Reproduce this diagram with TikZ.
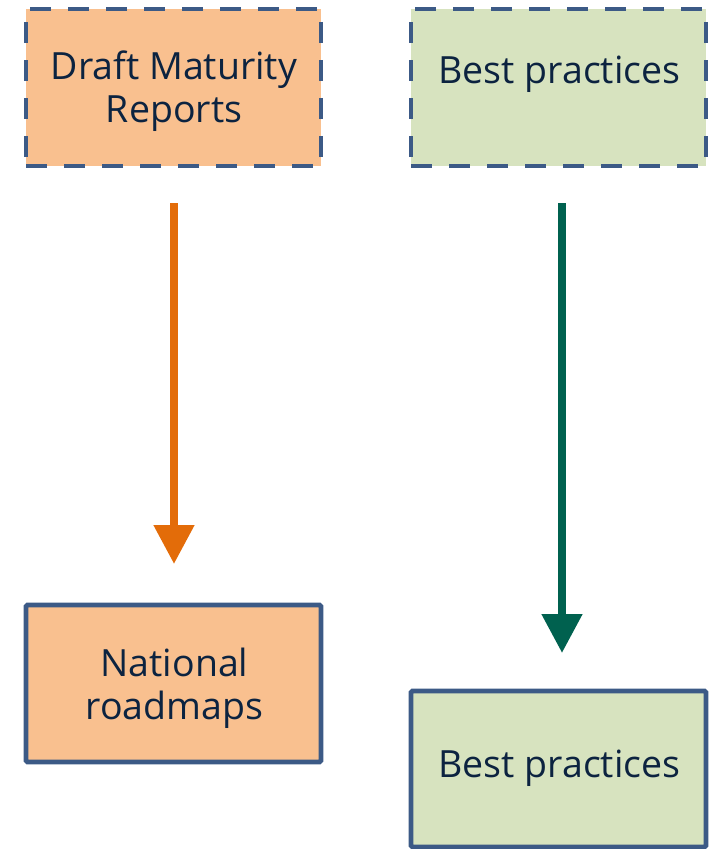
\documentclass[tikz,border=0pt]{standalone}
\usepackage{fontspec}
\setmainfont{Open Sans}
\usetikzlibrary{arrows.meta}
\definecolor{bordc}{HTML}{3C5A86}
\definecolor{txtc}{HTML}{0C2340}
\definecolor{orfill}{HTML}{F9C08F}
\definecolor{grfill}{HTML}{D7E3BF}
\definecolor{orarrow}{HTML}{E36C09}
\definecolor{grarrow}{HTML}{00614F}
\begin{document}
\begin{tikzpicture}[x=1pt,y=-1pt,
  box/.style={draw=bordc, inner sep=0pt, outer sep=0pt},
  dbox/.style={box, line width=4.8pt, dash pattern=on 21pt off 17pt},
  sbox/.style={box, line width=4.8pt, rounded corners=1.5pt},
  lbl/.style={text=txtc, font=\fontsize{37.5}{43}\selectfont, align=center, anchor=base, inner sep=0pt},
  conn/.style={line width=8pt, -{Triangle[width=39pt,length=39pt]}}
]
\useasboundingbox (0,0) rectangle (715,849);
\node[dbox, fill=orfill, minimum width=295pt, minimum height=157pt] (draft) at (173.5,87.5) {};
\node[dbox, fill=grfill, minimum width=295pt, minimum height=157pt] (bestA) at (558.5,87.5) {};
\node[sbox, fill=orfill, minimum width=295pt, minimum height=157pt] (nat) at (173.5,683.5) {};
\node[sbox, fill=grfill, minimum width=295pt, minimum height=156pt] (bestB) at (558.5,769) {};
\node[lbl] (draftT) at (174,122) {Draft Maturity\\Reports};
\node[lbl] (bestAT) at (559.5,83) {Best practices};
\node[lbl] (natT) at (174.5,719) {National\\roadmaps};
\node[lbl] (bestBT) at (559.5,777) {Best practices};
\draw[conn, orarrow, shorten <=37pt, shorten >=41pt] ([xshift=0.5pt]draft.south) -- ([xshift=0.5pt]nat.north);
\draw[conn, grarrow, shorten <=37pt, shorten >=38pt] ([xshift=3.5pt]bestA.south) -- ([xshift=3.5pt]bestB.north);
\end{tikzpicture}
\end{document}
